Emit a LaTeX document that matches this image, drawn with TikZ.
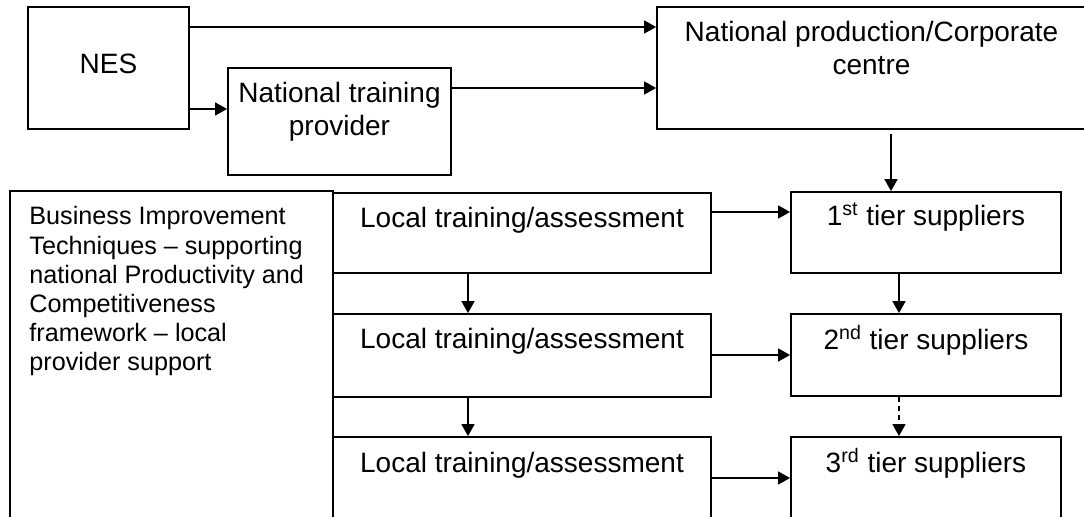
\documentclass[tikz,border=0pt]{standalone}
\usepackage{fontspec}
\setmainfont{Liberation Sans}
\usetikzlibrary{arrows.meta,fit}
\begin{document}
\begin{tikzpicture}[x=0.5pt,y=-0.5pt,
  box/.style={draw, line width=0.9pt, inner sep=0pt, rectangle},
  txt/.style={inner sep=0pt, align=center, font=\fontsize{14}{16.5}\selectfont, anchor=base},
  side/.style={inner sep=0pt, align=left, font=\fontsize{12.6}{14.6}\selectfont, anchor=base west},
  arr/.style={line width=0.8pt, -{Triangle[length=6pt,width=6.5pt]}},
  dasharr/.style={arr, dash pattern=on 2.5pt off 2pt}]
\useasboundingbox (0,0) rectangle (1084,517);
\clip (0,0) rectangle (1084,517);
% boxes
\node[box, fit={(28,7) (189,129)}] (nes) {};
\node[box, fit={(228,68) (451,175)}] (ntp) {};
\node[box, fit={(657,7) (1088,129)}] (natprod) {};
\node[box, fit={(10,191) (333,540)}] (bit) {};
\node[box, fit={(333,193) (711,273)}] (loc1) {};
\node[box, fit={(333,314) (711,397)}] (loc2) {};
\node[box, fit={(333,437) (711,540)}] (loc3) {};
\node[box, fit={(791,192) (1061,273)}] (t1) {};
\node[box, fit={(791,314) (1061,396)}] (t2) {};
\node[box, fit={(791,437) (1061,540)}] (t3) {};
% texts (base anchor = baseline of the last line)
\node[txt] (nes-t) at (108.5,74) {NES};
\node[txt] (ntp-t) at (339.5,136) {National training\\provider};
\node[txt] (natprod-t) at (871.5,75) {National production/Corporate\\centre};
\node[side] (bit-t) at (29,371) {Business Improvement\\Techniques – supporting\\national Productivity and\\Competitiveness\\framework – local\\provider support};
\node[txt] (loc1-t) at (522,228) {Local training/assessment};
\node[txt] (loc2-t) at (522,349) {Local training/assessment};
\node[txt] (loc3-t) at (522,473) {Local training/assessment};
\node[txt] (t1-t) at (926,226) {1\textsuperscript{st} tier suppliers};
\node[txt] (t2-t) at (926,350) {2\textsuperscript{nd} tier suppliers};
\node[txt] (t3-t) at (926,473) {3\textsuperscript{rd} tier suppliers};
% helper coordinates
\coordinate (r27) at (0,27);
\coordinate (r88) at (0,88);
\coordinate (r109) at (0,109);
\coordinate (r212) at (0,212);
\coordinate (r355) at (0,355);
\coordinate (r478) at (0,478);
\coordinate (c468) at (468,0);
\coordinate (c891) at (891,0);
\coordinate (c899) at (899,0);
% connectors
\draw[arr] (nes.east |- r27) -- (natprod.west |- r27);
\draw[arr] (nes.east |- r109) -- (ntp.west |- r109);
\draw[arr] (ntp.east |- r88) -- (natprod.west |- r88);
\draw[arr, shorten <=2pt] (natprod.south -| c891) -- (t1.north -| c891);
\draw[arr] (loc1.east |- r212) -- (t1.west |- r212);
\draw[arr] (loc2.east |- r355) -- (t2.west |- r355);
\draw[arr] (loc3.east |- r478) -- (t3.west |- r478);
\draw[arr] (loc1.south -| c468) -- (loc2.north -| c468);
\draw[arr] (loc2.south -| c468) -- (loc3.north -| c468);
\draw[arr] (t1.south -| c899) -- (t2.north -| c899);
\draw[dasharr] (t2.south -| c899) -- (t3.north -| c899);
\end{tikzpicture}
\end{document}
